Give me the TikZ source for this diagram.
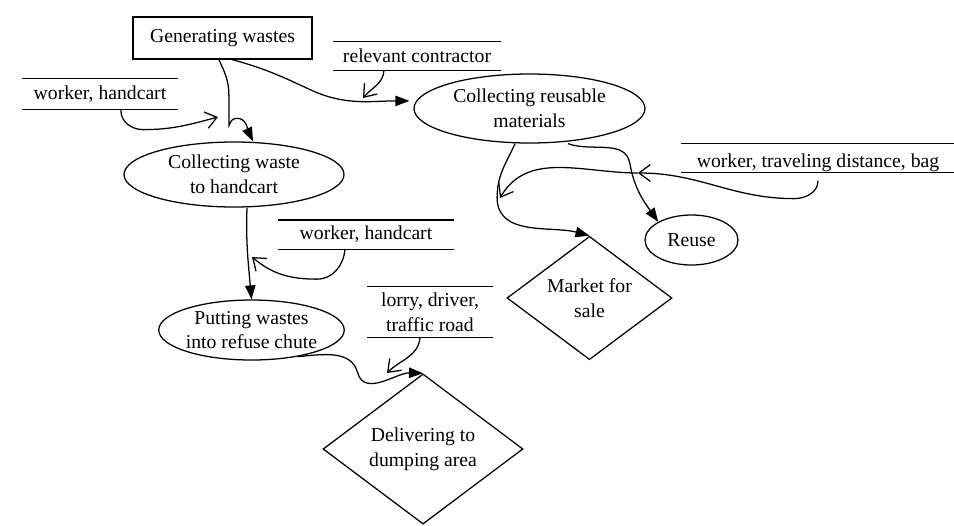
\documentclass[tikz,border=0pt]{standalone}
\usepackage{fontspec}
\setmainfont{Liberation Serif}
\usetikzlibrary{arrows.meta,shapes.geometric}

\begin{document}
\begin{tikzpicture}[
  font=\fontsize{14}{17.5}\selectfont,
  line width=0.9pt,
  proc/.style={draw, ellipse, align=center, inner sep=0pt},
  decis/.style={draw, diamond, align=center, inner sep=0pt},
  datastore/.style={align=center, inner sep=0pt, minimum height=7mm},
  arr/.style={-{Triangle[length=3.5mm,width=2.6mm]}},
  inarr/.style={-{Straight Barb[length=2.8mm,width=4.2mm]}},
]
\useasboundingbox (0,0) rectangle (23.85,-13.125);
% processes
\node[draw, minimum width=4.475cm, minimum height=1.05cm] (gen) at (5.5625,-0.95) {Generating wastes};
\node[proc, minimum width=5.5cm, minimum height=1.625cm] (collect) at (5.85,-4.3625) {Collecting waste\\to handcart};
\node[proc, minimum width=5.775cm, minimum height=1.725cm] (reusable) at (13.2375,-2.7125) {Collecting reusable\\materials};
\node[proc, minimum width=4.525cm, minimum height=1.5cm] (putting) at (6.2875,-8.25) {Putting wastes\\into refuse chute};
\node[proc, minimum width=2.325cm, minimum height=1.25cm] (reuse) at (17.2875,-6.0) {Reuse};
\node[decis, minimum width=4.125cm, minimum height=2.9cm] (market) at (14.7375,-7.45) {Market for\\sale};
\node[decis, minimum width=5cm, minimum height=3.35cm] (deliver) at (10.575,-11.225) {Delivering to\\dumping area};
% resources
\node[datastore, minimum width=4.175cm] (cont) at (10.425,-1.4) {relevant contractor};
\node[datastore, minimum width=3.85cm, minimum height=7.5mm] (wa) at (2.5,-2.35) {worker, handcart};
\node[datastore, minimum width=4.375cm] (wb) at (9.15,-5.8625) {worker, handcart};
\node[datastore, minimum width=6.825cm, text height=0.58cm, text depth=0.1cm] (wc) at (20.45,-3.95) {worker, traveling distance, bag};
\node[datastore, minimum width=3.1cm, minimum height=1.25cm] (lorry) at (10.75,-7.8) {lorry, driver,\\traffic road};
\foreach \d in {cont,wa,wb,wc,lorry}
  \draw (\d.north west) -- (\d.north east) (\d.south west) -- (\d.south east);
% points where resources meet the flows
\coordinate (j1) at (9.075,-2.45);
\coordinate (j2) at (5.45,-2.925);
\coordinate (j3) at (6.3,-6.425);
\coordinate (j4) at (9.675,-9.325);
\coordinate (j5) at (15.95,-4.325);
\coordinate (j6) at (12.5,-4.95);
% flows
\draw[arr] ([xshift=-0.09cm]gen.south) to[out=-65,in=90] ++(0.25,-0.9) -- ++(0,-0.75)
  to[out=65,in=190] ++(0.16,0.18) to[out=10,in=115] ([xshift=0.475cm]collect.north);
\draw[arr] ([xshift=0.24cm]gen.south) to[out=-15,in=155] ++(1.95,-0.75)
  to[out=-25,in=180] ([xshift=-0.1cm,yshift=0.19cm]reusable.west);
\draw[arr] ([xshift=0.325cm]collect.south) to[out=-92,in=95] (putting.north);
\draw[arr] (putting.-30) to[out=5,in=105] ++(1.5,-0.4) to[out=-75,in=178] (deliver.north);
\draw[arr] ([xshift=-0.36cm]reusable.south) to[out=-115,in=90] ++(-0.45,-1.35)
  to[out=-90,in=165] (market.north);
\draw[arr] ([xshift=0.96cm]reusable.south) to[out=-20,in=100] ++(1.55,-0.5)
  to[out=-80,in=125] (reuse.north west);
% resource inputs
\draw[inarr] ([xshift=-0.825cm]cont.south) to[out=-95,in=50] (j1);
\draw[inarr] ([xshift=0.525cm]wa.south) to[out=-95,in=180] ++(0.55,-0.5) to[out=0,in=195] (j2);
\draw[inarr] ([xshift=-0.525cm]wb.south) to[out=-95,in=0] ++(-0.7,-0.75) to[out=180,in=-40] (j3);
\draw[inarr] ([xshift=-0.25cm]lorry.south) to[out=-95,in=45] (j4);
\draw[inarr] ([yshift=-0.2cm]wc.south) to[out=-90,in=0] ++(-0.6,-0.45) to[out=180,in=0] (j5);
\draw[inarr] (j5) to[out=180,in=60] (j6);
\end{tikzpicture}
\end{document}
